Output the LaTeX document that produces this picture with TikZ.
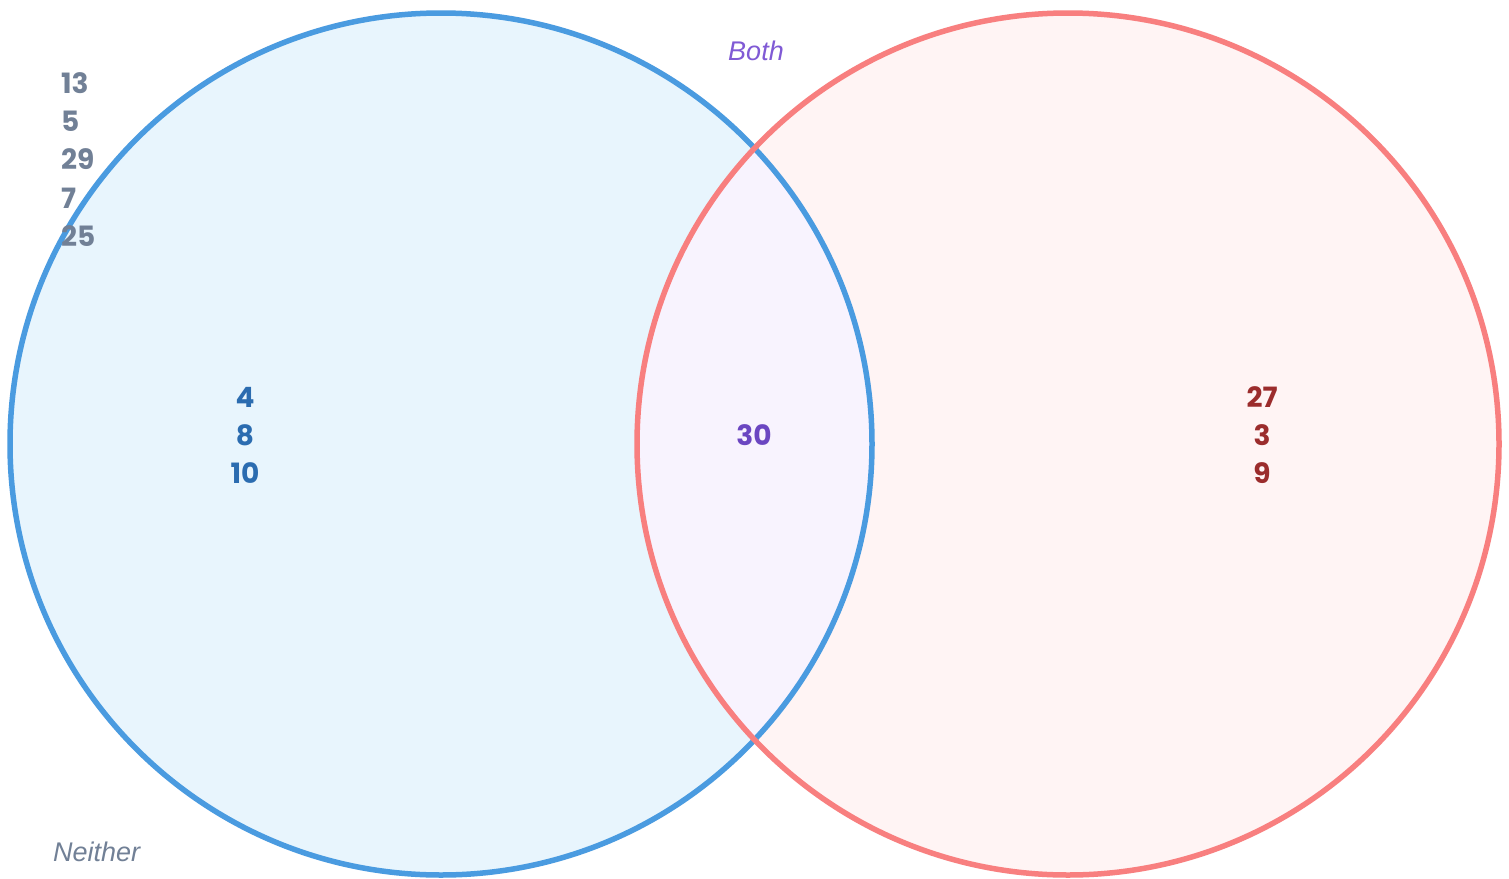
\documentclass[tikz,border=0pt]{standalone}
\usepackage{fontspec}
\setmainfont{Liberation Sans}
\newfontfamily\numfont{Poppins}
\definecolor{blueline}{HTML}{4A9BE0}
\definecolor{bluefill}{HTML}{E8F5FD}
\definecolor{redline}{HTML}{F87F7F}
\definecolor{redfill}{HTML}{FFF4F4}
\definecolor{bothfill}{HTML}{F8F3FE}
\definecolor{graytxt}{HTML}{718096}
\definecolor{bluetxt}{HTML}{2B6CB0}
\definecolor{redtxt}{HTML}{9B2C2C}
\definecolor{purptxt}{HTML}{6B46C1}
\definecolor{bothtxt}{HTML}{805AD5}
\begin{document}
\begin{tikzpicture}[x=1pt,y=-1pt,
  num/.style={font=\numfont\bfseries\fontsize{28}{32}\selectfont, inner sep=0pt},
  lbl/.style={font=\itshape\fontsize{27}{31}\selectfont, inner sep=0pt}]
\useasboundingbox (0,0) rectangle (1509,878);
\fill[white] (0,0) rectangle (1509,878);
% fills
\fill[bluefill] (441,444) circle (431);
\fill[redfill] (1068,444) circle (431);
\begin{scope}
  \clip (441,444) circle (431);
  \fill[bothfill] (1068,444) circle (431);
\end{scope}
% strokes
\draw[blueline, line width=5.5pt] (441,444) circle (431);
\draw[redline, line width=5.5pt] (1068,444) circle (431);
% labels
\node[lbl, text=bothtxt] (both) at (756,51) {Both};
\node[lbl, text=graytxt, anchor=west] (neither) at (53,852) {Neither};
% neither numbers
\node[num, text=graytxt, anchor=west] (n1) at (61,83) {13};
\node[num, text=graytxt, anchor=west] (n2) at (61,121) {5};
\node[num, text=graytxt, anchor=west] (n3) at (61,159) {29};
\node[num, text=graytxt, anchor=west] (n4) at (61,198) {7};
\node[num, text=graytxt, anchor=west] (n5) at (61,236) {25};
% left only
\node[num, text=bluetxt] (a1) at (245,397) {4};
\node[num, text=bluetxt] (a2) at (245,435) {8};
\node[num, text=bluetxt] (a3) at (245,473) {10};
% both
\node[num, text=purptxt] (b1) at (754,435) {30};
% right only
\node[num, text=redtxt] (c1) at (1262,397) {27};
\node[num, text=redtxt] (c2) at (1262,435) {3};
\node[num, text=redtxt] (c3) at (1262,473) {9};
\end{tikzpicture}
\end{document}
